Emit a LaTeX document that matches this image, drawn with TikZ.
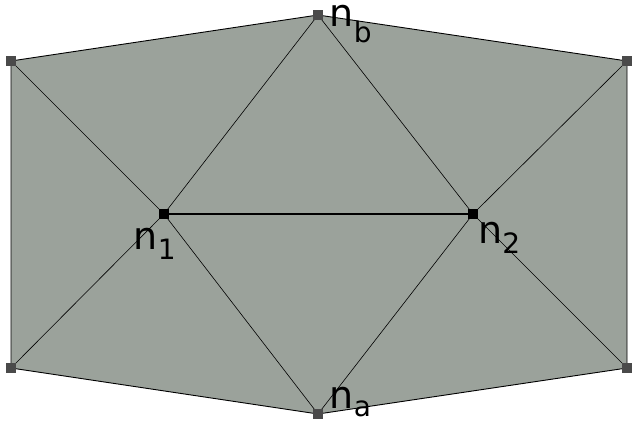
\documentclass[tikz,border=0pt]{standalone}
\usepackage{fontspec}
\setmainfont{DejaVu Sans}
\definecolor{meshgray}{RGB}{155,162,155}
\definecolor{vertgray}{RGB}{74,74,74}
\tikzset{
  bvert/.style={fill=vertgray, minimum size=10pt, inner sep=0pt},
  ivert/.style={fill=black, minimum size=10pt, inner sep=0pt},
  meshedge/.style={black, line width=0.6pt},
  lbl/.style={anchor=base west, inner sep=0pt, text height=0.58em, font=\fontsize{38}{40}\selectfont},
}
\newcommand{\nsub}[2]{n\raisebox{-#2pt}{\fontsize{28}{28}\selectfont #1}}
\begin{document}
\begin{tikzpicture}[x=1pt,y=-1pt]
        \useasboundingbox (0,0) rectangle (641,425);

        % Mesh vertices
        \coordinate (tl) at (11,61);
        \coordinate (nb) at (318,15);
        \coordinate (tr) at (627,61);
        \coordinate (br) at (627,368);
        \coordinate (na) at (318,414);
        \coordinate (bl) at (11,368);
        \coordinate (n1) at (164,214);
        \coordinate (n2) at (473,214);

        % Patch outline
        \filldraw[fill=meshgray, draw=black, line width=0.9pt]
            (tl) -- (nb) -- (tr) -- (br) -- (na) -- (bl) -- cycle;

        % Inner edges
        \draw[meshedge] (tl) -- (n1) -- (bl);
        \draw[meshedge] (nb) -- (n1) -- (na);
        \draw[meshedge] (tr) -- (n2) -- (br);
        \draw[meshedge] (nb) -- (n2) -- (na);

        % Shared edge
        \draw[line width=2pt] (n1) -- (n2);

        % Vertex markers
        \foreach \v in {tl,nb,tr,br,na,bl}
            \node[bvert] (m\v) at (\v) {};
        \node[ivert] (mn1) at (n1) {};
        \node[ivert] (mn2) at (n2) {};

        % Labels
        \node[lbl] (ln1) at ([xshift=-30.5pt,yshift=-36pt]mn1.center) {\nsub{1}{9.5}};
        \node[lbl] (ln2) at ([xshift=5pt,yshift=-29.5pt]mn2.center) {\nsub{2}{9.7}};
        \node[lbl] (lnb) at ([xshift=11.5pt,yshift=-12pt]mnb.center) {\nsub{b}{16}};
        \node[lbl] (lna) at ([xshift=11.5pt,yshift=6pt]mna.center) {\nsub{a}{8.5}};
\end{tikzpicture}
\end{document}
